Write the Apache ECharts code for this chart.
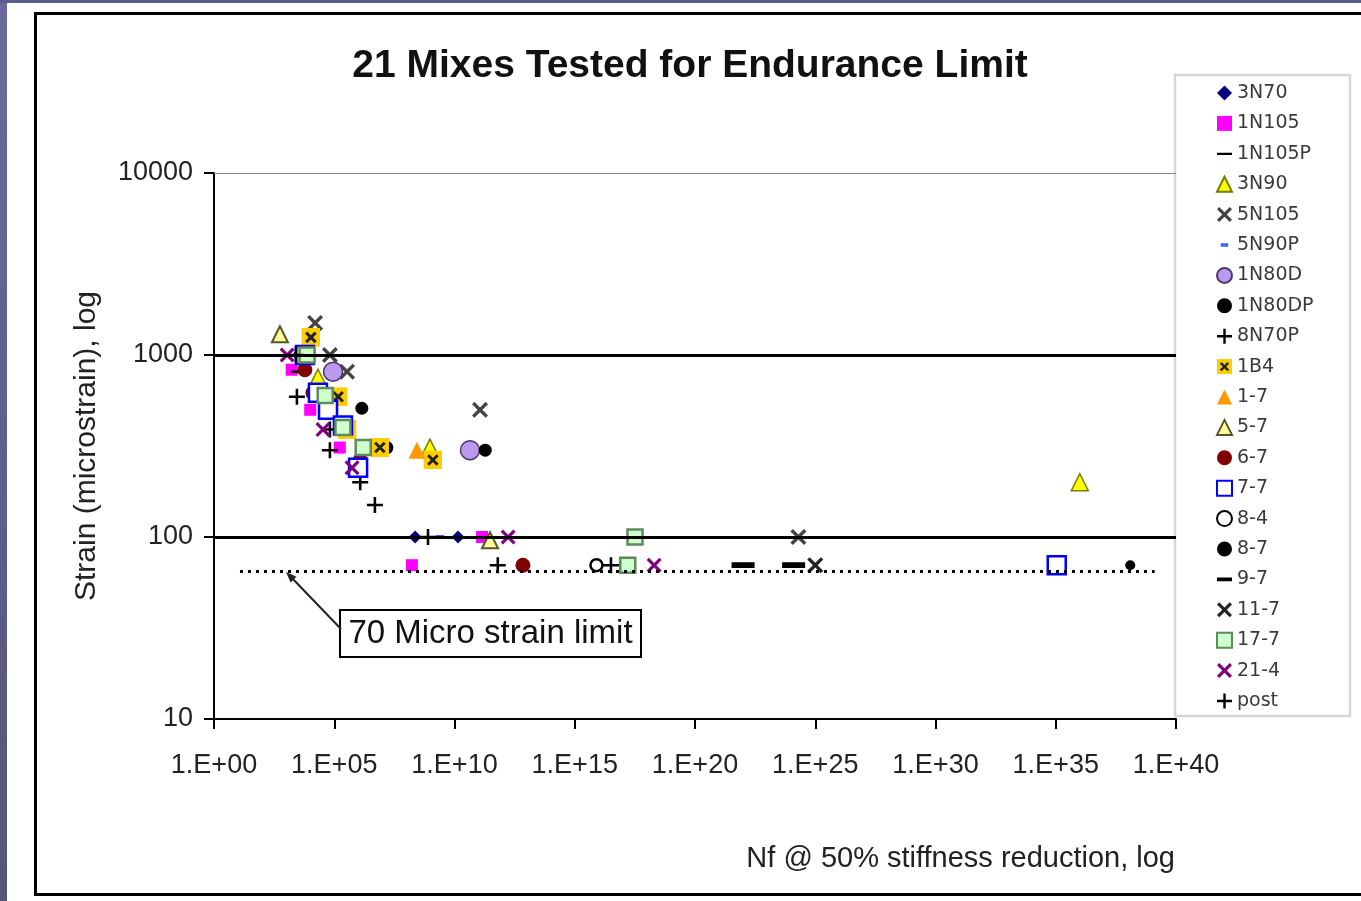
<!DOCTYPE html>
<html>
<head>
<meta charset="utf-8">
<script src="https://cdn.jsdelivr.net/npm/echarts@6/dist/echarts.min.js"></script>
<style>
html,body{margin:0;padding:0;background:#fff;}
#c{width:1361px;height:901px;}
</style>
</head>
<body>
<div id="c"></div>
<script>
// ---- data (x = Nf cycles, y = microstrain) ----
const xTickExponents = [0, 5, 10, 15, 20, 25, 30, 35, 40];
const yTickValues = [10, 100, 1000, 10000];
const limitLine = 65;
const limitFrom = 12;
const limitTo = 1.3e39;

const d3N70   = [[2.3e8,100],[1.4e10,100]];
const d1N105  = [[1.7e3,830],[1.0e4,500],[1.7e5,310],[1.4e11,100],[1.7e8,70]];
const d1N105P = [[3.6e3,810],[6.6e4,540]];
const d3N90   = [[2.1e4,750],[9.5e8,310],[1e36,200]];
const d5N105  = [[1.6e4,1500],[6.6e4,1000],[3.4e5,810],[1.15e11,500],[2e24,100]];
const d5N90P  = [[2.5e9,100]];
const d1N80D  = [[8.9e4,810],[4.4e10,300]];
const d1N80DP = [[3.8e3,1000],[1.4e6,510],[1.55e7,310],[1.9e11,300]];
const d8N70P  = [[2.8e3,590],[6.6e4,390],[6.6e4,300],[1.2e6,200],[4.9e6,150],[7.9e8,100],[6.3e11,70]];
const d1B4    = [[1.07e4,1250],[1.45e5,590],[3.4e5,390],[7.9e6,310],[1.26e9,265]];
const d1_7    = [[6.6e4,500],[2.75e8,300]];
const d5_7    = [[5.5e2,1300],[3e11,96]];
const d6_7    = [[6e3,830],[1.3e4,620],[1.2e6,265],[7e12,70]];
const d7_7    = [[6e3,1000],[2.1e4,620],[5.5e4,500],[2.3e5,410],[9.8e5,240],[1.1e35,70]];
const d8_4    = [[8e15,70]];
const d8_7    = [[1.25e38,70]];
const d9_7    = [[1e22,70],[1.26e24,70]];
const d11_7   = [[1e25,70]];
const d17_7   = [[7.4e3,1000],[4.2e4,600],[2.3e5,400],[1.6e6,310],[3.2e17,100],[1.6e17,70]];
const d21_4   = [[1.1e3,1000],[3.4e4,390],[5.5e5,240],[1.7e12,100],[2e18,70]];
const dPost   = [[2.6e3,1000],[3.2e16,70]];

const FONT = '"Liberation Sans", Arial, sans-serif';
const LFONT = '"DejaVu Sans", "Liberation Sans", sans-serif';
const X_PATH = 'path://M0,1.5 L1.5,0 L5,3.5 L8.5,0 L10,1.5 L6.5,5 L10,8.5 L8.5,10 L5,6.5 L1.5,10 L0,8.5 L3.5,5 Z';
const PLUS_PATH = 'path://M4.2,0 L5.8,0 L5.8,4.2 L10,4.2 L10,5.8 L5.8,5.8 L5.8,10 L4.2,10 L4.2,5.8 L0,5.8 L0,4.2 L4.2,4.2 Z';
// dash inside a square box (tiny corner specks keep the box square)
function dashPath(x0, x1, h) {
  const y0 = 10 - h / 2, y1 = 10 + h / 2;
  return 'path://M0,0 L0.01,0 L0.01,0.01 Z M' + x0 + ',' + y0 + ' L' + x1 + ',' + y0 + ' L' + x1 + ',' + y1 + ' L' + x0 + ',' + y1 + ' Z M19.99,19.99 L20,19.99 L20,20 Z';
}
const DASH_1N105P = dashPath(0, 20, 3);
const DASH_5N90P = dashPath(5, 15, 4.5);
const DASH_9_7 = dashPath(0, 20, 5);
const svg1B4 = "<svg xmlns='http://www.w3.org/2000/svg' width='32' height='32'><rect x='0' y='0' width='32' height='32' fill='#FFCC00'/><path d='M8 8 L24 24 M24 8 L8 24' stroke='#222' stroke-width='5'/></svg>";
const B4_IMG = 'image://data:image/svg+xml;charset=utf-8,' + encodeURIComponent(svg1B4);

function s(name, data, symbol, size, style, extra) {
  return Object.assign({
    name: name, type: 'scatter', data: data, symbol: symbol, symbolSize: size,
    symbolKeepAspect: true, itemStyle: Object.assign({opacity: 1}, style),
    emphasis: {disabled: true}
  }, extra || {});
}

const series = [
  {
    name: '_lines', type: 'scatter', data: [], silent: true, z: 1,
    markLine: {
      silent: true, symbol: 'none', label: {show: false}, animation: false,
      data: [
        {yAxis: 1000, lineStyle: {color: '#000', width: 3, type: 'solid'}},
        {yAxis: 100, lineStyle: {color: '#000', width: 3, type: 'solid'}},
        {yAxis: 10000, lineStyle: {color: '#888', width: 1, type: 'solid'}},
        [{coord: [limitFrom, limitLine], lineStyle: {color: '#000', width: 3, type: [3, 5]}},
         {coord: [limitTo, limitLine]}]
      ]
    }
  },
  s('3N70', d3N70, 'diamond', 13, {color: '#000080'}),
  s('1N105', d1N105, 'rect', 12, {color: '#FF00FF'}),
  s('1N105P', d1N105P, DASH_1N105P, 17, {color: '#000'}),
  s('3N90', d3N90, 'triangle', 17, {color: '#FFFF00', borderColor: '#7A7A00', borderWidth: 1.5}),
  s('5N105', d5N105, X_PATH, 16, {color: '#444'}),
  s('5N90P', d5N90P, DASH_5N90P, 17, {color: '#3366FF'}),
  s('1N80D', d1N80D, 'circle', 19, {color: '#BB99EE', borderColor: '#4A3A66', borderWidth: 1.5}),
  s('1N80DP', d1N80DP, 'circle', 13, {color: '#000'}),
  s('8N70P', d8N70P, PLUS_PATH, 16, {color: '#000'}),
  s('1B4', d1B4, B4_IMG, 19, {}),
  s('1-7', d1_7, 'triangle', 17, {color: '#FF9900'}),
  s('5-7', d5_7, 'triangle', 16, {color: '#FFFF99', borderColor: '#55552A', borderWidth: 2}),
  s('6-7', d6_7, 'circle', 15, {color: '#800000'}),
  s('7-7', d7_7, 'rect', 18, {color: '#FFFFFF', borderColor: '#0000FF', borderWidth: 2.5}),
  s('8-4', d8_4, 'circle', 12, {color: '#FFFFFF', borderColor: '#000', borderWidth: 2.5}),
  s('8-7', d8_7, 'circle', 10, {color: '#000'}),
  s('9-7', d9_7, DASH_9_7, 23, {color: '#000'}),
  s('11-7', d11_7, X_PATH, 16, {color: '#222'}),
  s('17-7', d17_7, 'rect', 15, {color: '#CCFFCC', borderColor: '#5E8A5E', borderWidth: 2.5}),
  s('21-4', d21_4, X_PATH, 15, {color: '#800080'}),
  s('post', dPost, PLUS_PATH, 16, {color: '#000'})
];

const legendNames = series.filter(x => x.name !== '_lines').map(x => x.name);

const chart = echarts.init(document.getElementById('c'), null, {renderer: 'canvas'});
chart.setOption({
  animation: false,
  backgroundColor: '#fff',
  title: [
    {text: '21 Mixes Tested for Endurance Limit', left: 690, top: 47, textAlign: 'center', padding: 0,
     textStyle: {fontFamily: FONT, fontSize: 39, fontWeight: 'bold', color: '#111'}},
    {text: 'Nf @ 50% stiffness reduction, log', right: 186, top: 844, padding: 0,
     textStyle: {fontFamily: FONT, fontSize: 29, fontWeight: 'normal', color: '#222'}}
  ],
  grid: {left: 214, right: 185, top: 173, bottom: 182, containLabel: false},
  xAxis: {
    type: 'log', logBase: 10, min: 1, max: 1e40, interval: 5,
    axisLine: {show: true, lineStyle: {color: '#000', width: 2}},
    axisTick: {show: true, length: 10, lineStyle: {color: '#000', width: 2}},
    splitLine: {show: false},
    axisLabel: {
      margin: 33, fontFamily: FONT, fontSize: 27, color: '#222',
      formatter: function (v) {
        const e = Math.round(Math.log10(v));
        return xTickExponents.indexOf(e) >= 0 ? '1.E+' + (e < 10 ? '0' : '') + e : '';
      }
    }
  },
  yAxis: {
    type: 'log', logBase: 10, min: 10, max: 10000, interval: 1,
    name: 'Strain (microstrain), log', nameLocation: 'middle', nameGap: 112, nameRotate: 90,
    nameTextStyle: {fontFamily: FONT, fontSize: 30, color: '#222'},
    axisLine: {show: true, lineStyle: {color: '#000', width: 2}},
    axisTick: {show: true, length: 10, lineStyle: {color: '#000', width: 2}},
    splitLine: {show: false},
    axisLabel: {
      margin: 21, fontFamily: FONT, fontSize: 27, color: '#222',
      formatter: function (v) {
        const r = Math.round(v);
        return yTickValues.indexOf(r) >= 0 ? String(r) : '';
      }
    }
  },
  legend: {
    data: legendNames, orient: 'vertical', left: 1216, top: 83.5, padding: 0, z: 60,
    itemWidth: 15, itemHeight: 15, itemGap: 11.4, selectedMode: false,
    textStyle: {fontFamily: LFONT, fontSize: 19, color: '#3a3a3a'}
  },
  graphic: [
    {type: 'rect', silent: true, z: 100, shape: {x: 0, y: 0, width: 7, height: 901},
     style: {fill: new echarts.graphic.LinearGradient(0, 0, 0, 1, [{offset: 0, color: '#6A6A9E'}, {offset: 1, color: '#54547C'}])}},
    {type: 'rect', silent: true, z: 100, shape: {x: 0, y: 0, width: 1361, height: 3},
     style: {fill: '#5E5E8E'}},
    {type: 'rect', silent: true, z: 100, shape: {x: 35.5, y: 13.5, width: 1340, height: 881},
     style: {fill: null, stroke: '#000', lineWidth: 3}},
    {type: 'rect', silent: true, z: 2, shape: {x: 1175, y: 75, width: 175, height: 641},
     style: {fill: '#fff', stroke: '#D6D6D6', lineWidth: 2.5}},
    {type: 'line', silent: true, z: 100, shape: {x1: 341, y1: 629, x2: 291, y2: 577},
     style: {stroke: '#222', lineWidth: 2}},
    {type: 'polygon', silent: true, z: 100, shape: {points: [[286, 572], [296.5, 576.8], [290.6, 582.6]]},
     style: {fill: '#222'}},
    {type: 'group', silent: true, z: 100, children: [
      {type: 'rect', shape: {x: 340, y: 610, width: 301, height: 47},
       style: {fill: '#fff', stroke: '#000', lineWidth: 2}},
      {type: 'text', x: 490.5, y: 634,
       style: {text: '70 Micro strain limit', fontFamily: FONT, fontSize: 33, fill: '#111',
               textAlign: 'center', textVerticalAlign: 'middle'}}
    ]}
  ],
  series: series
});
</script>
</body>
</html>
